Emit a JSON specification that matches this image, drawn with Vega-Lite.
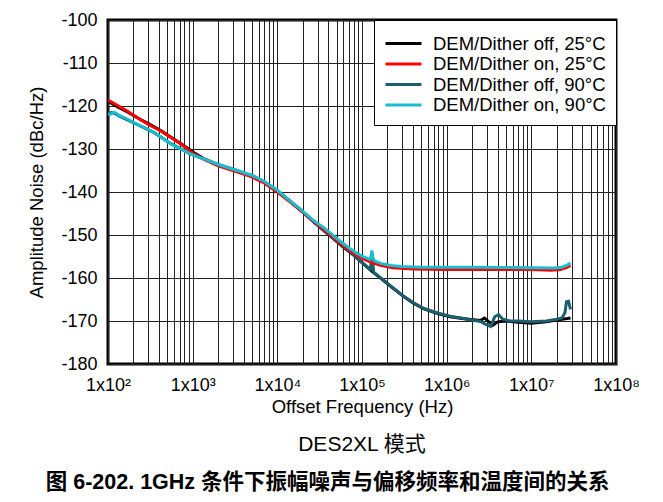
{
  "$schema": "https://vega.github.io/schema/vega-lite/v6.json",
  "background": "white",
  "padding": {"left": 26, "top": 9, "right": 5, "bottom": 5},
  "title": {"text": "图 6-202. 1GHz 条件下振幅噪声与偏移频率和温度间的关系", "orient": "bottom", "anchor": "middle", "frame": "bounds", "font": "Liberation Sans, Noto Sans CJK SC", "fontWeight": "bold", "fontSize": 21.5, "color": "black", "offset": 16, "dx": -6},
  "config": {
    "font": "Liberation Sans",
    "view": {"stroke": "black", "strokeWidth": 3},
    "axis": {"labelFont": "Liberation Sans", "titleFont": "Liberation Sans", "labelColor": "black", "titleColor": "black", "labelFontSize": 18, "titleFontSize": 18.5, "titleFontWeight": "normal", "ticks": false, "domain": false, "grid": true, "gridColor": "#222", "gridWidth": 1, "gridOpacity": 1, "labelOverlap": false, "labelFlush": false},
    "legend": {"labelFont": "Liberation Sans", "labelFontSize": 18.5, "labelColor": "black", "labelLimit": 400}
  },
  "vconcat": [
    {
      "width": 508,
      "height": 344,
      "title": {"text": "DES2XL 模式", "orient": "bottom", "anchor": "middle", "frame": "group", "font": "Liberation Sans, Noto Sans CJK SC", "fontWeight": "normal", "fontSize": 21, "color": "black", "offset": 18},
      "data": {"values": [
        {"s": "DEM/Dither off, 25°C", "f": 100, "v": -118.9},
        {"s": "DEM/Dither off, 25°C", "f": 130, "v": -120.2},
        {"s": "DEM/Dither off, 25°C", "f": 170, "v": -121.4},
        {"s": "DEM/Dither off, 25°C", "f": 230, "v": -122.9},
        {"s": "DEM/Dither off, 25°C", "f": 300, "v": -124.1},
        {"s": "DEM/Dither off, 25°C", "f": 420, "v": -125.7},
        {"s": "DEM/Dither off, 25°C", "f": 550, "v": -127.2},
        {"s": "DEM/Dither off, 25°C", "f": 720, "v": -128.7},
        {"s": "DEM/Dither off, 25°C", "f": 900, "v": -130.0},
        {"s": "DEM/Dither off, 25°C", "f": 1040, "v": -130.9},
        {"s": "DEM/Dither off, 25°C", "f": 1360, "v": -132.3},
        {"s": "DEM/Dither off, 25°C", "f": 2000, "v": -133.7},
        {"s": "DEM/Dither off, 25°C", "f": 3000, "v": -134.8},
        {"s": "DEM/Dither off, 25°C", "f": 5000, "v": -136.3},
        {"s": "DEM/Dither off, 25°C", "f": 7000, "v": -137.7},
        {"s": "DEM/Dither off, 25°C", "f": 10000, "v": -139.8},
        {"s": "DEM/Dither off, 25°C", "f": 14000, "v": -142.1},
        {"s": "DEM/Dither off, 25°C", "f": 19000, "v": -144.3},
        {"s": "DEM/Dither off, 25°C", "f": 27000, "v": -147.0},
        {"s": "DEM/Dither off, 25°C", "f": 39000, "v": -149.7},
        {"s": "DEM/Dither off, 25°C", "f": 47000, "v": -151.0},
        {"s": "DEM/Dither off, 25°C", "f": 60000, "v": -152.8},
        {"s": "DEM/Dither off, 25°C", "f": 80000, "v": -154.7},
        {"s": "DEM/Dither off, 25°C", "f": 100000, "v": -156.4},
        {"s": "DEM/Dither off, 25°C", "f": 130000, "v": -158.4},
        {"s": "DEM/Dither off, 25°C", "f": 160000, "v": -159.8},
        {"s": "DEM/Dither off, 25°C", "f": 220000, "v": -162.0},
        {"s": "DEM/Dither off, 25°C", "f": 300000, "v": -164.1},
        {"s": "DEM/Dither off, 25°C", "f": 400000, "v": -165.8},
        {"s": "DEM/Dither off, 25°C", "f": 540000, "v": -167.2},
        {"s": "DEM/Dither off, 25°C", "f": 800000, "v": -168.3},
        {"s": "DEM/Dither off, 25°C", "f": 1100000, "v": -169.0},
        {"s": "DEM/Dither off, 25°C", "f": 1600000, "v": -169.5},
        {"s": "DEM/Dither off, 25°C", "f": 2500000, "v": -169.9},
        {"s": "DEM/Dither off, 25°C", "f": 2800000, "v": -169.3},
        {"s": "DEM/Dither off, 25°C", "f": 3200000, "v": -170.3},
        {"s": "DEM/Dither off, 25°C", "f": 3500000, "v": -171.0},
        {"s": "DEM/Dither off, 25°C", "f": 4000000, "v": -170.2},
        {"s": "DEM/Dither off, 25°C", "f": 5000000, "v": -170.0},
        {"s": "DEM/Dither off, 25°C", "f": 7000000, "v": -170.3},
        {"s": "DEM/Dither off, 25°C", "f": 10000000, "v": -170.5},
        {"s": "DEM/Dither off, 25°C", "f": 15000000, "v": -170.2},
        {"s": "DEM/Dither off, 25°C", "f": 20000000, "v": -169.8},
        {"s": "DEM/Dither off, 25°C", "f": 29000000, "v": -169.3},

        {"s": "DEM/Dither off, 90°C", "f": 100, "v": -121.8},
        {"s": "DEM/Dither off, 90°C", "f": 110, "v": -121.5},
        {"s": "DEM/Dither off, 90°C", "f": 125, "v": -121.9},
        {"s": "DEM/Dither off, 90°C", "f": 140, "v": -122.5},
        {"s": "DEM/Dither off, 90°C", "f": 220, "v": -124.3},
        {"s": "DEM/Dither off, 90°C", "f": 350, "v": -126.2},
        {"s": "DEM/Dither off, 90°C", "f": 550, "v": -128.7},
        {"s": "DEM/Dither off, 90°C", "f": 950, "v": -131.2},
        {"s": "DEM/Dither off, 90°C", "f": 1360, "v": -132.3},
        {"s": "DEM/Dither off, 90°C", "f": 2000, "v": -133.6},
        {"s": "DEM/Dither off, 90°C", "f": 3000, "v": -134.7},
        {"s": "DEM/Dither off, 90°C", "f": 5000, "v": -136.2},
        {"s": "DEM/Dither off, 90°C", "f": 7000, "v": -137.6},
        {"s": "DEM/Dither off, 90°C", "f": 10000, "v": -139.7},
        {"s": "DEM/Dither off, 90°C", "f": 14000, "v": -142.0},
        {"s": "DEM/Dither off, 90°C", "f": 19000, "v": -144.2},
        {"s": "DEM/Dither off, 90°C", "f": 27000, "v": -146.9},
        {"s": "DEM/Dither off, 90°C", "f": 39000, "v": -149.6},
        {"s": "DEM/Dither off, 90°C", "f": 47000, "v": -150.9},
        {"s": "DEM/Dither off, 90°C", "f": 60000, "v": -152.7},
        {"s": "DEM/Dither off, 90°C", "f": 80000, "v": -154.6},
        {"s": "DEM/Dither off, 90°C", "f": 100000, "v": -156.4},
        {"s": "DEM/Dither off, 90°C", "f": 125000, "v": -158.0},
        {"s": "DEM/Dither off, 90°C", "f": 130000, "v": -155.5},
        {"s": "DEM/Dither off, 90°C", "f": 132000, "v": -154.2},
        {"s": "DEM/Dither off, 90°C", "f": 134000, "v": -156.5},
        {"s": "DEM/Dither off, 90°C", "f": 138000, "v": -158.7},
        {"s": "DEM/Dither off, 90°C", "f": 160000, "v": -159.7},
        {"s": "DEM/Dither off, 90°C", "f": 220000, "v": -161.9},
        {"s": "DEM/Dither off, 90°C", "f": 300000, "v": -164.0},
        {"s": "DEM/Dither off, 90°C", "f": 400000, "v": -165.7},
        {"s": "DEM/Dither off, 90°C", "f": 540000, "v": -167.1},
        {"s": "DEM/Dither off, 90°C", "f": 800000, "v": -168.2},
        {"s": "DEM/Dither off, 90°C", "f": 1100000, "v": -168.9},
        {"s": "DEM/Dither off, 90°C", "f": 1600000, "v": -169.4},
        {"s": "DEM/Dither off, 90°C", "f": 2500000, "v": -170.1},
        {"s": "DEM/Dither off, 90°C", "f": 2900000, "v": -170.8},
        {"s": "DEM/Dither off, 90°C", "f": 3300000, "v": -171.3},
        {"s": "DEM/Dither off, 90°C", "f": 3700000, "v": -169.0},
        {"s": "DEM/Dither off, 90°C", "f": 4100000, "v": -168.5},
        {"s": "DEM/Dither off, 90°C", "f": 4600000, "v": -169.6},
        {"s": "DEM/Dither off, 90°C", "f": 5500000, "v": -170.0},
        {"s": "DEM/Dither off, 90°C", "f": 7000000, "v": -170.0},
        {"s": "DEM/Dither off, 90°C", "f": 10000000, "v": -170.2},
        {"s": "DEM/Dither off, 90°C", "f": 15000000, "v": -170.0},
        {"s": "DEM/Dither off, 90°C", "f": 20000000, "v": -169.6},
        {"s": "DEM/Dither off, 90°C", "f": 23000000, "v": -169.3},
        {"s": "DEM/Dither off, 90°C", "f": 25000000, "v": -168.0},
        {"s": "DEM/Dither off, 90°C", "f": 26000000, "v": -165.5},
        {"s": "DEM/Dither off, 90°C", "f": 27500000, "v": -165.4},
        {"s": "DEM/Dither off, 90°C", "f": 29000000, "v": -167.3},

        {"s": "DEM/Dither on, 25°C", "f": 100, "v": -118.6},
        {"s": "DEM/Dither on, 25°C", "f": 130, "v": -119.9},
        {"s": "DEM/Dither on, 25°C", "f": 170, "v": -121.2},
        {"s": "DEM/Dither on, 25°C", "f": 230, "v": -122.9},
        {"s": "DEM/Dither on, 25°C", "f": 300, "v": -124.3},
        {"s": "DEM/Dither on, 25°C", "f": 420, "v": -125.8},
        {"s": "DEM/Dither on, 25°C", "f": 550, "v": -127.3},
        {"s": "DEM/Dither on, 25°C", "f": 720, "v": -128.8},
        {"s": "DEM/Dither on, 25°C", "f": 1000, "v": -131.0},
        {"s": "DEM/Dither on, 25°C", "f": 1360, "v": -132.4},
        {"s": "DEM/Dither on, 25°C", "f": 2000, "v": -133.9},
        {"s": "DEM/Dither on, 25°C", "f": 3000, "v": -135.0},
        {"s": "DEM/Dither on, 25°C", "f": 5000, "v": -136.5},
        {"s": "DEM/Dither on, 25°C", "f": 7000, "v": -137.9},
        {"s": "DEM/Dither on, 25°C", "f": 10000, "v": -140.0},
        {"s": "DEM/Dither on, 25°C", "f": 14000, "v": -142.2},
        {"s": "DEM/Dither on, 25°C", "f": 19000, "v": -144.3},
        {"s": "DEM/Dither on, 25°C", "f": 27000, "v": -146.9},
        {"s": "DEM/Dither on, 25°C", "f": 39000, "v": -149.4},
        {"s": "DEM/Dither on, 25°C", "f": 50000, "v": -151.2},
        {"s": "DEM/Dither on, 25°C", "f": 65000, "v": -153.0},
        {"s": "DEM/Dither on, 25°C", "f": 85000, "v": -154.6},
        {"s": "DEM/Dither on, 25°C", "f": 100000, "v": -155.4},
        {"s": "DEM/Dither on, 25°C", "f": 130000, "v": -156.4},
        {"s": "DEM/Dither on, 25°C", "f": 170000, "v": -157.1},
        {"s": "DEM/Dither on, 25°C", "f": 230000, "v": -157.6},
        {"s": "DEM/Dither on, 25°C", "f": 400000, "v": -157.9},
        {"s": "DEM/Dither on, 25°C", "f": 1000000, "v": -158.0},
        {"s": "DEM/Dither on, 25°C", "f": 3000000, "v": -158.0},
        {"s": "DEM/Dither on, 25°C", "f": 10000000, "v": -158.0},
        {"s": "DEM/Dither on, 25°C", "f": 17000000, "v": -158.2},
        {"s": "DEM/Dither on, 25°C", "f": 22000000, "v": -158.0},
        {"s": "DEM/Dither on, 25°C", "f": 26000000, "v": -157.6},
        {"s": "DEM/Dither on, 25°C", "f": 29000000, "v": -157.1},

        {"s": "DEM/Dither on, 90°C", "f": 100, "v": -121.9},
        {"s": "DEM/Dither on, 90°C", "f": 107, "v": -121.9},
        {"s": "DEM/Dither on, 90°C", "f": 115, "v": -121.5},
        {"s": "DEM/Dither on, 90°C", "f": 123, "v": -121.6},
        {"s": "DEM/Dither on, 90°C", "f": 135, "v": -122.2},
        {"s": "DEM/Dither on, 90°C", "f": 160, "v": -122.8},
        {"s": "DEM/Dither on, 90°C", "f": 220, "v": -124.2},
        {"s": "DEM/Dither on, 90°C", "f": 350, "v": -126.1},
        {"s": "DEM/Dither on, 90°C", "f": 550, "v": -128.8},
        {"s": "DEM/Dither on, 90°C", "f": 950, "v": -131.2},
        {"s": "DEM/Dither on, 90°C", "f": 1300, "v": -132.2},
        {"s": "DEM/Dither on, 90°C", "f": 2000, "v": -133.6},
        {"s": "DEM/Dither on, 90°C", "f": 3000, "v": -134.7},
        {"s": "DEM/Dither on, 90°C", "f": 5000, "v": -136.1},
        {"s": "DEM/Dither on, 90°C", "f": 7000, "v": -137.5},
        {"s": "DEM/Dither on, 90°C", "f": 10000, "v": -139.6},
        {"s": "DEM/Dither on, 90°C", "f": 14000, "v": -142.0},
        {"s": "DEM/Dither on, 90°C", "f": 19000, "v": -144.1},
        {"s": "DEM/Dither on, 90°C", "f": 27000, "v": -146.7},
        {"s": "DEM/Dither on, 90°C", "f": 36000, "v": -148.4},
        {"s": "DEM/Dither on, 90°C", "f": 50000, "v": -150.8},
        {"s": "DEM/Dither on, 90°C", "f": 61000, "v": -152.1},
        {"s": "DEM/Dither on, 90°C", "f": 75000, "v": -153.4},
        {"s": "DEM/Dither on, 90°C", "f": 88000, "v": -154.3},
        {"s": "DEM/Dither on, 90°C", "f": 100000, "v": -154.9},
        {"s": "DEM/Dither on, 90°C", "f": 125000, "v": -155.7},
        {"s": "DEM/Dither on, 90°C", "f": 129000, "v": -154.5},
        {"s": "DEM/Dither on, 90°C", "f": 131000, "v": -153.6},
        {"s": "DEM/Dither on, 90°C", "f": 134000, "v": -155.2},
        {"s": "DEM/Dither on, 90°C", "f": 140000, "v": -156.0},
        {"s": "DEM/Dither on, 90°C", "f": 166000, "v": -156.6},
        {"s": "DEM/Dither on, 90°C", "f": 220000, "v": -157.1},
        {"s": "DEM/Dither on, 90°C", "f": 290000, "v": -157.3},
        {"s": "DEM/Dither on, 90°C", "f": 500000, "v": -157.5},
        {"s": "DEM/Dither on, 90°C", "f": 1750000, "v": -157.5},
        {"s": "DEM/Dither on, 90°C", "f": 10000000, "v": -157.6},
        {"s": "DEM/Dither on, 90°C", "f": 18600000, "v": -157.7},
        {"s": "DEM/Dither on, 90°C", "f": 23000000, "v": -157.5},
        {"s": "DEM/Dither on, 90°C", "f": 26500000, "v": -157.0},
        {"s": "DEM/Dither on, 90°C", "f": 29000000, "v": -156.5}
      ]},
      "mark": {"type": "line", "strokeWidth": 3, "clip": true},
      "encoding": {
        "x": {"field": "f", "type": "quantitative", "scale": {"type": "log", "domain": [100, 100000000], "nice": false},
          "axis": {"title": "Offset Frequency (Hz)", "labelPadding": 12, "titlePadding": 3,
            "values": [100,200,300,400,500,600,700,800,900,1000,2000,3000,4000,5000,6000,7000,8000,9000,10000,20000,30000,40000,50000,60000,70000,80000,90000,100000,200000,300000,400000,500000,600000,700000,800000,900000,1000000,2000000,3000000,4000000,5000000,6000000,7000000,8000000,9000000,10000000,20000000,30000000,40000000,50000000,60000000,70000000,80000000,90000000,100000000],
            "labelExpr": "abs(log(datum.value)/LN10 - round(log(datum.value)/LN10)) < 0.001 ? '1x10' + ['⁰','¹','²','³','⁴','⁵','⁶','⁷','⁸','⁹'][round(log(datum.value)/LN10)] : ''"}},
        "y": {"field": "v", "type": "quantitative", "scale": {"domain": [-180, -100], "nice": false},
          "axis": {"title": "Amplitude Noise (dBc/Hz)", "values": [-180,-170,-160,-150,-140,-130,-120,-110,-100], "labelExpr": "'' + datum.value", "labelPadding": 11, "titlePadding": 14}},
        "color": {"field": "s", "type": "nominal",
          "scale": {"domain": ["DEM/Dither off, 25°C", "DEM/Dither on, 25°C", "DEM/Dither off, 90°C", "DEM/Dither on, 90°C"], "range": ["#000000", "#ff0000", "#1b5e6e", "#19bdd0"]},
          "legend": {"title": " ", "titleFontSize": 3, "titlePadding": 2, "orient": "top-right", "offset": 0, "fillColor": "white", "strokeColor": "black", "padding": 10, "symbolType": "stroke", "symbolSize": 1296, "symbolStrokeWidth": 3, "labelOffset": 10, "labelLimit": 400, "rowPadding": 1.5, "clipHeight": 17}}
      }
    }
  ]
}
